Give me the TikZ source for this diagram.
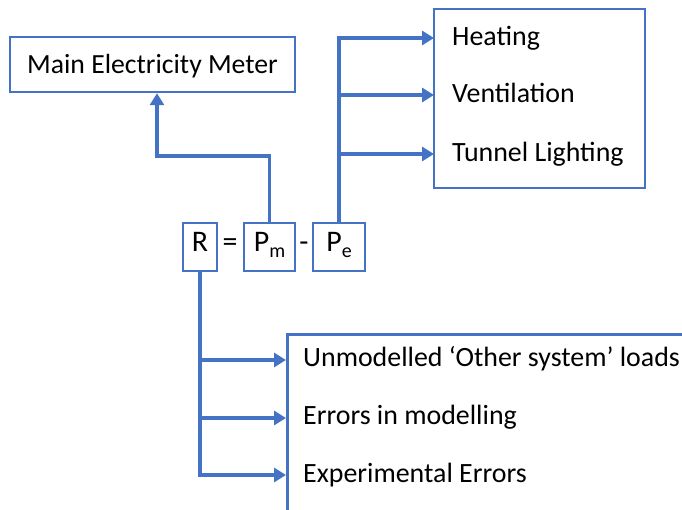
\documentclass[tikz,border=0pt]{standalone}
\usepackage{fontspec}
\setmainfont{Carlito}
\usetikzlibrary{arrows.meta}
\definecolor{lineblue}{HTML}{4472C4}
\newcommand{\lowsub}[1]{\raisebox{-6bp}{\fontsize{20}{20}\selectfont #1}}
\begin{document}
\begin{tikzpicture}[x=1bp,y=-1bp,
  box/.style={draw=lineblue, line width=2.5bp, inner sep=0pt},
  conn/.style={draw=lineblue, line width=3.5bp},
  arr/.style={conn, -{Triangle[length=12bp,width=14bp]}},
  lbl/.style={font=\fontsize{28}{30}\selectfont, inner sep=0pt, anchor=base west},
  eq/.style={font=\fontsize{30}{33}\selectfont, inner sep=0pt, text height=20bp, text depth=10bp}]
\useasboundingbox[fill=white] (0,0) rectangle (682,510);

% main meter
\node[box, minimum width=285bp, minimum height=55bp, font=\fontsize{27.8}{30}\selectfont,
      text height=17.9bp, text depth=0pt] (meter) at (152.5,64.5) {Main Electricity Meter};

% equation boxes
\node[box, eq, minimum width=34bp, minimum height=48bp] (r) at (200,247) {R};
\node[eq] (equals) at (230,247) {=};
\node[box, eq, minimum width=51bp, minimum height=48bp] (pm) at (269.5,247) {P\lowsub{m}};
\node[eq] (minus) at (304,247) {-};
\node[box, eq, minimum width=52bp, minimum height=48bp] (pe) at (339,247) {P\lowsub{e}};

% modelled loads
\node[box, minimum width=211bp, minimum height=179bp] (loadbox) at (539.5,98.5) {};
\node[lbl] (heat) at (452,45.5) {Heating};
\node[lbl] (vent) at (452,102.5) {Ventilation};
\node[lbl] (tunnel) at (452,161.5) {Tunnel Lighting};
\coordinate (heatin) at (434,38);
\coordinate (ventin) at (434,95);
\coordinate (tunnelin) at (434,154);

% residual causes
\node[box, minimum width=420bp, minimum height=200bp, anchor=north west] (errbox) at (286,333) {};
\node[lbl] (other) at (303,366) {Unmodelled ‘Other system’ loads};
\node[lbl] (model) at (303,424) {Errors in modelling};
\node[lbl] (exper) at (303,482) {Experimental Errors};
\coordinate (otherin) at (286,360);
\coordinate (modelin) at (286,418);
\coordinate (experin) at (286,475);

% connectors
\coordinate (bend) at (157,156);
\draw[arr] (pm.north) |- (bend) -- (meter.south -| bend);

\draw[arr] (pe.north) |- (heatin);
\draw[arr] (pe.north |- ventin) -- (ventin);
\draw[arr] (pe.north |- tunnelin) -- (tunnelin);

\draw[arr] (r.south) |- (experin);
\draw[arr] (r.south |- otherin) -- (otherin);
\draw[arr] (r.south |- modelin) -- (modelin);
\end{tikzpicture}
\end{document}
